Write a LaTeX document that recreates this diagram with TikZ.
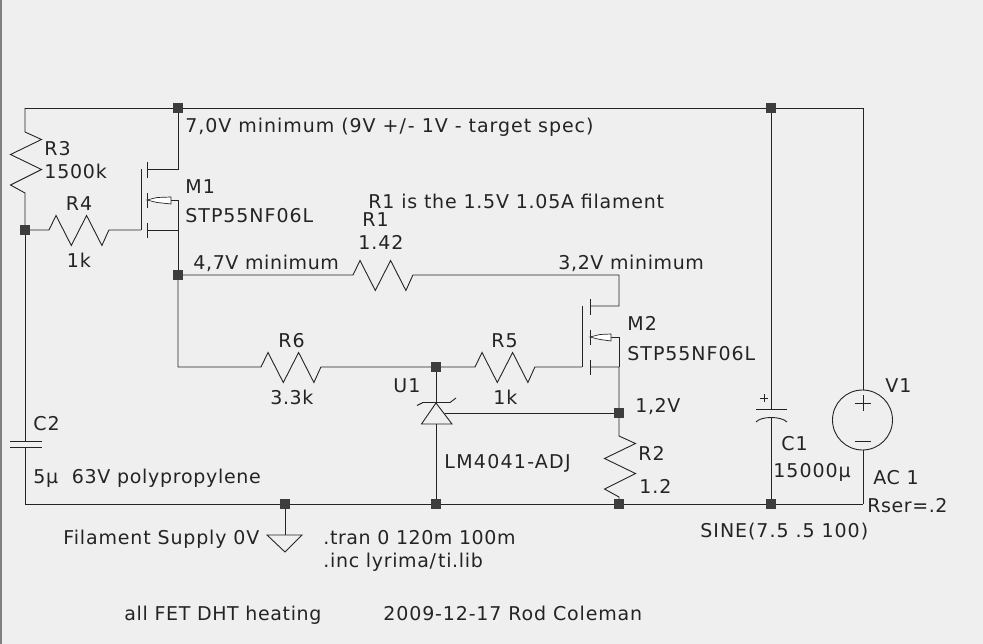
\documentclass[tikz,border=0pt]{standalone}
\usepackage{fontspec}
\setmainfont{DejaVu Sans}[LetterSpace=5]
\usetikzlibrary{calc}
\definecolor{sheet}{rgb}{.937,.937,.937}
\definecolor{ink}{rgb}{.14,.14,.14}
\definecolor{dot}{rgb}{.24,.24,.24}
\tikzset{
	every path/.style={draw=ink,line width=.9pt},
	lbl/.style={draw=none,anchor=base west,inner sep=0pt,text=ink,font=\fontsize{19}{21}\selectfont},
	lblc/.style={lbl,anchor=base},
	tight/.style={lbl,font=\fontsize{19}{21}\selectfont\addfontfeature{LetterSpace=#1}}, % hinted widths differ per label
	junc/.style={rectangle,draw=none,fill=dot,minimum size=9.5pt,inner sep=0pt},
	reshoriz/.style={to path={-- ++(7,-14.5) -- ++(15.3,30) -- ++(15.3,-30) -- ++(15.3,30) -- ++(7,-15.5) -- (\tikztotarget)}},
	resvert/.style={to path={-- ++(16.5,7.5) -- ++(-31,15) -- ++(31,15) -- ++(-31,15.5) -- ++(14.5,8) -- (\tikztotarget)}},
	mosbody/.style={fill=white,line width=.7pt}
}
\begin{document}
\begin{tikzpicture}[x=1pt,y=-1pt]
	\path[use as bounding box,draw=none,fill=sheet] (0,0) rectangle (983,644);
	\path[draw=gray,line width=1.6pt] (1,0) -- (1,644);
	% junctions
	\node[junc](JTop) at (178,108){};
	\node[junc](JC1) at (771,108){};
	\node[junc](JGate) at (25,230){};
	\node[junc](JSrc) at (178,275){};
	\node[junc](JRef) at (436,367){};
	\node[junc](JAdj) at (619,413){};
	\node[junc](JGnd) at (285,504){};
	\node[junc](JU1) at (436,504){};
	\node[junc](JR2) at (619,504){};
	\node[junc](JC1b) at (771,504){};
	% corners and part ends
	\coordinate (TL) at (25,108);
	\coordinate (TR) at (863,108);
	\coordinate (BL) at (25,504);
	\coordinate (BR) at (863,504);
	\coordinate (R3a) at (25,132);
	\coordinate (R3b) at (25,193);
	\coordinate (R4a) at (49,230);
	\coordinate (R4b) at (110,230);
	\coordinate (R1a) at (353,275);
	\coordinate (R1b) at (414,275);
	\coordinate (R6a) at (261,367);
	\coordinate (R6b) at (322,367);
	\coordinate (R5a) at (475,367);
	\coordinate (R5b) at (536,367);
	\coordinate (R2a) at (619,436);
	\coordinate (R2b) at (619,497);
	\coordinate (M1g) at (141,230);
	\coordinate (M1d) at (147,169);
	\coordinate (M1s) at (147,230);
	\coordinate (M2g) at (582,367);
	\coordinate (M2d) at (590,306);
	\coordinate (M2s) at (590,367);
	\coordinate (M2n) at (619,367);
	% wires
	\draw (TL) -- (JTop) -- (JC1) -- (TR);
	\draw (TL) -- (R3a) to[resvert] (R3b) -- (JGate);
	\draw (JGate) -- (R4a) to[reshoriz] (R4b) -- (M1g);
	\draw (JGate) -- (25,441) (25,447) -- (BL);
	\draw (BL) -- (JGnd) -- (JU1) -- (JR2) -- (JC1b) -- (BR);
	\draw (JTop) |- (M1d);
	\draw (M1s) -| (JSrc);
	\draw (JSrc) -- (R1a) to[reshoriz] (R1b) -- (619,275) |- (M2d);
	\draw (JSrc) |- (R6a) to[reshoriz] (R6b) -- (JRef);
	\draw (JRef) -- (R5a) to[reshoriz] (R5b) -- (M2g);
	\draw (M2s) -- (M2n) -- (JAdj) -- (R2a) to[resvert] (R2b) -- (JR2);
	% M1
	\draw (M1g) -- (141,169);
	\draw (147,162) -- (147,178) (147,193) -- (147,208) (147,223) -- (147,238);
	\draw (171,200) -- (178,200) -- (178,230);
	\draw[mosbody] (147,200) -- (157,197.5) -- (171,197) -- (171,204) -- (157,202.5) -- cycle;
	% M2
	\draw (M2g) -- (582,306);
	\draw (590,299) -- (590,315) (590,330) -- (590,345) (590,360) -- (590,375);
	\draw (611,337) -- (619,337) -- (M2n);
	\draw[mosbody] (590,337) -- (600,334.5) -- (611,334) -- (611,341) -- (600,339.5) -- cycle;
	% U1
	\draw (JRef) -- (436,403);
	\draw (436,403) -- (421.5,424) -- (452,424) -- cycle;
	\draw (417,405.5) -- (423,402.5) -- (450,402.5) -- (456,398);
	\draw (445,413) -- (JAdj);
	\draw (436,424) -- (JU1);
	% C2
	\draw (10,441) -- (42,441) (10,447) -- (42,447);
	% C1
	\draw (JC1) -- (771,409) (771,417) -- (JC1b);
	\draw (756,409) -- (787,409);
	\draw (756,422) .. controls (761,416) and (781,416) .. (787,422);
	\draw (760,398) -- (768,398) (764,394) -- (764,402);
	% V1
	\draw (TR) -- (863,390) (863,450) -- (BR);
	\draw (862.5,420) circle (30);
	\draw (855,403) -- (871,403) (863,395) -- (863,411);
	\draw (855,441) -- (871,441);
	% ground
	\draw (JGnd) -- (285,535);
	\draw (267,535) -- (302,535) -- (285,552) -- cycle;
	% labels
	\node[lbl](T1) at (185,133){7,0V minimum (9V +/\kern2pt- 1V - target spec)};
	\node[lbl](T2) at (44,156){R3};
	\node[tight=4](T3) at (44,179){1500k};
	\node[lblc](T4) at (79,211){R4};
	\node[lblc](T5) at (79,268){1k};
	\node[lbl](T6) at (185,194){M1};
	\node[lbl](T7) at (185,223){STP55NF06L};
	\node[tight=4](T8) at (368,209){R1 is the 1.5V 1.05A filament};
	\node[lbl](T9) at (362,227){R1};
	\node[lbl](T10) at (358,250){1.42};
	\node[tight=3.2](T11) at (193,270){4,7V minimum};
	\node[tight=3.2](T12) at (558,270){3,2V minimum};
	\node[lbl](T13) at (627,331){M2};
	\node[lbl](T14) at (627,361){STP55NF06L};
	\node[lbl](T15) at (278,348){R6};
	\node[tight=3](T16) at (270,404){3.3k};
	\node[lbl](T17) at (491,348){R5};
	\node[lbl](T18) at (493,404){1k};
	\node[lbl](T19) at (393,392){U1};
	\node[tight=3](T20) at (635,413){1,2V};
	\node[tight=6.6](T21) at (444,468){LM4041-ADJ};
	\node[lbl](T22) at (638,460){R2};
	\node[lbl](T23) at (639,493){1.2};
	\node[lbl](T24) at (33,430){C2};
	\node[tight=3.7](T25) at (33,483){5µ\ \ 63V polypropylene};
	\node[tight=4.4](T26) at (63,544){Filament Supply 0V};
	\node[tight=3](T27) at (323,544){.tran 0 120m 100m};
	\node[tight=3.5](T28) at (323,567){.inc lyrima/\kern2pt ti.lib};
	\node[lbl](T29) at (700,537){SINE(7.5 .5 100)};
	\node[lbl](T30) at (781,450){C1};
	\node[lbl](T31) at (773,477){15000µ};
	\node[lbl](T32) at (885,392){V1};
	\node[tight=3](T33) at (873,484){AC 1};
	\node[tight=3](T34) at (867,512){Rser=.2};
	\node[tight=3.3](T35) at (124,620){all FET DHT heating};
	\node[tight=4.5](T36) at (383,620){2009-12-17 Rod Coleman};
\end{tikzpicture}
\end{document}
